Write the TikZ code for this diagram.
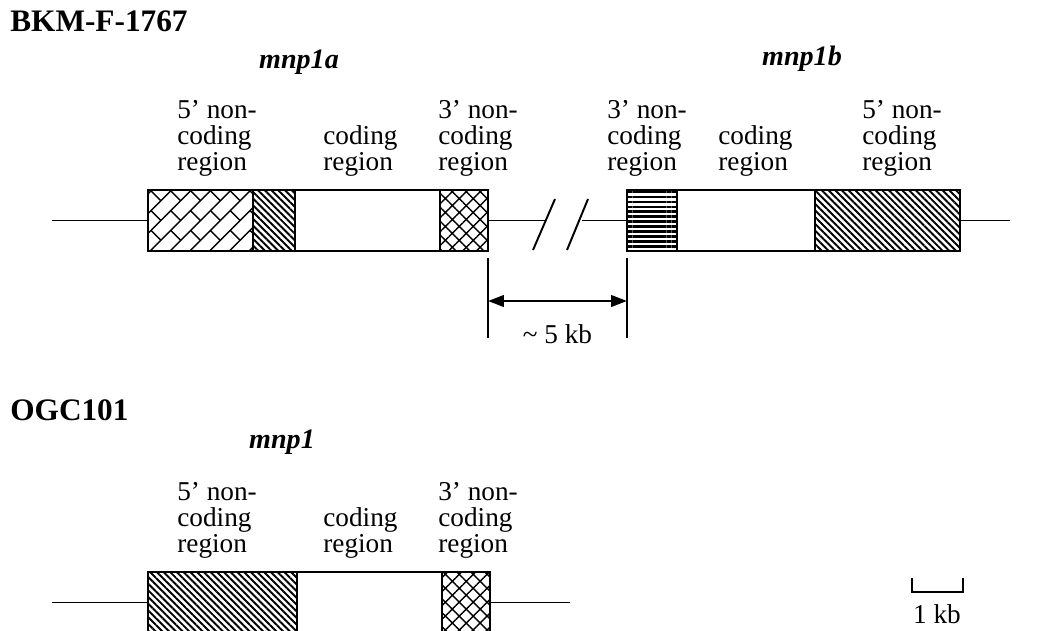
\documentclass[tikz,border=0pt]{standalone}
\usepackage{fontspec}
\setmainfont{Liberation Serif}
\usetikzlibrary{patterns.meta, arrows.meta, positioning}

\begin{document}
\begin{tikzpicture}[>={Triangle[length=9pt,width=6.5pt]}]
    \tikzset{seg/.style={draw, line width=1.4pt, minimum height=1.22cm, inner sep=0pt, outer sep=0pt, anchor=west},
        dna/.style={line width=1.1pt},
        lbl/.style={align=left, anchor=base west, inner sep=0pt, font=\fontsize{15.5}{14.7}\selectfont},
        gene/.style={anchor=base, inner sep=0pt, font=\fontsize{16}{19}\selectfont\bfseries\itshape},
        strain/.style={anchor=base west, inner sep=0pt, font=\fontsize{17.8}{21}\selectfont\bfseries},
        thin hatch/.style={pattern={Lines[angle=-45,distance=2.7pt,line width=1.1pt]}},
        cross hatch/.style={pattern={Hatch[angle=45,distance=5.6pt,line width=0.8pt]}},
        flat hatch/.style={pattern={Lines[angle=0,distance=2.8pt,line width=1.5pt]}}
    }
    \useasboundingbox (0,0) rectangle (20.82,-12.6);
    \clip (0,0) rectangle (20.82,-12.6);

    % strain with the duplicated gene
    \node (BKM) [strain] at (0.2,-0.62) {BKM-F-1767};
    \node (mnp1a) [gene] at (5.98,-1.36) {mnp1a};
    \node (mnp1b) [gene] at (16.04,-1.3) {mnp1b};

    % labels sit on the baseline of their last line
    \node (A-5l) [lbl] at (3.54,-3.4) {5' non-\\coding\\region};
    \node (A-cl) [lbl] at (6.46,-3.4) {coding\\region};
    \node (A-3l) [lbl] at (8.76,-3.4) {3' non-\\coding\\region};
    \node (B-3l) [lbl] at (12.14,-3.4) {3' non-\\coding\\region};
    \node (B-cl) [lbl] at (14.36,-3.4) {coding\\region};
    \node (B-5l) [lbl] at (17.24,-3.4) {5' non-\\coding\\region};

    \node (A-5) [seg, minimum width=2.1cm] at (2.96,-4.41) {};
    \node (A-5h) [seg, thin hatch, minimum width=0.84cm, right=0pt of A-5] {};
    \node (A-c) [seg, minimum width=2.9cm, right=0pt of A-5h] {};
    \node (A-3) [seg, cross hatch, minimum width=0.96cm, right=0pt of A-c] {};

    % brick fill of the 5' part
    \begin{scope}
        \clip (A-5.south west) rectangle (A-5.north east);
        \begin{scope}[shift={(A-5.center)}, rotate=45]
            \foreach \r in {-6,...,6} {
                \draw [line width=0.8pt] (-2,\r*0.28) -- (2,\r*0.28);
                \foreach \c in {-5,...,5}
                    \draw [line width=0.8pt] ({(\c+0.5*mod(\r+10,2))*0.56},\r*0.28) -- ++(0,0.28);
            }
        \end{scope}
    \end{scope}
    \draw [line width=1.4pt] (A-5.south west) rectangle (A-5.north east);

    \node (B-3) [seg, flat hatch, minimum width=1cm] at (12.54,-4.41) {};
    \node (B-c) [seg, minimum width=2.76cm, right=0pt of B-3] {};
    \node (B-5) [seg, thin hatch, minimum width=2.9cm, right=0pt of B-c] {};

    \coordinate (A-in) at (1.04,-4.41);
    \coordinate (brk1) at (10.9,-4.41);
    \coordinate (brk2) at (11.64,-4.41);
    \coordinate (B-out) at (20.2,-4.41);
    \draw [dna] (A-in) -- (A-5.west);
    \draw [dna] (A-3.east) -- (brk1);
    \draw [dna] (brk2) -- (B-3.west);
    \draw [dna] (B-5.east) -- (B-out);
    \draw [dna] (10.66,-5.0) -- (11.1,-3.98);
    \draw [dna] (11.34,-5.0) -- (11.76,-3.98);

    % distance between the copies
    \draw [line width=1pt] ([yshift=-0.14cm]A-3.south east) -- ++(0,-1.6);
    \draw [line width=1pt] ([yshift=-0.14cm]B-3.south west) -- ++(0,-1.6);
    \draw [<->, line width=1.4pt] ([yshift=-1cm]A-3.south east) -- node (gap) [lbl, anchor=base, yshift=-0.84cm] {\textasciitilde{} 5 kb} ([yshift=-1cm]B-3.south west);

    % strain with the single gene
    \node (OGC) [strain] at (0.2,-8.4) {OGC101};
    \node (mnp1) [gene] at (5.64,-8.96) {mnp1};

    \node (C-5l) [lbl] at (3.54,-11.04) {5' non-\\coding\\region};
    \node (C-cl) [lbl] at (6.46,-11.04) {coding\\region};
    \node (C-3l) [lbl] at (8.76,-11.04) {3' non-\\coding\\region};

    \node (C-5) [seg, thin hatch, minimum width=2.98cm] at (2.96,-12.05) {};
    \node (C-c) [seg, minimum width=2.9cm, right=0pt of C-5] {};
    \node (C-3) [seg, cross hatch, minimum width=0.96cm, right=0pt of C-c] {};

    \coordinate (C-in) at (1.04,-12.05);
    \coordinate (C-out) at (11.4,-12.05);
    \draw [dna] (C-in) -- (C-5.west);
    \draw [dna] (C-3.east) -- (C-out);

    % scale bar
    \coordinate (S-l) at (18.24,-11.56);
    \coordinate (S-r) at (19.26,-11.56);
    \draw [line width=1pt] (S-l) -- ++(0,-0.28) -| (S-r);
    \node (S) [lbl, anchor=base] at (18.74,-12.46) {1 kb};
\end{tikzpicture}
\end{document}
